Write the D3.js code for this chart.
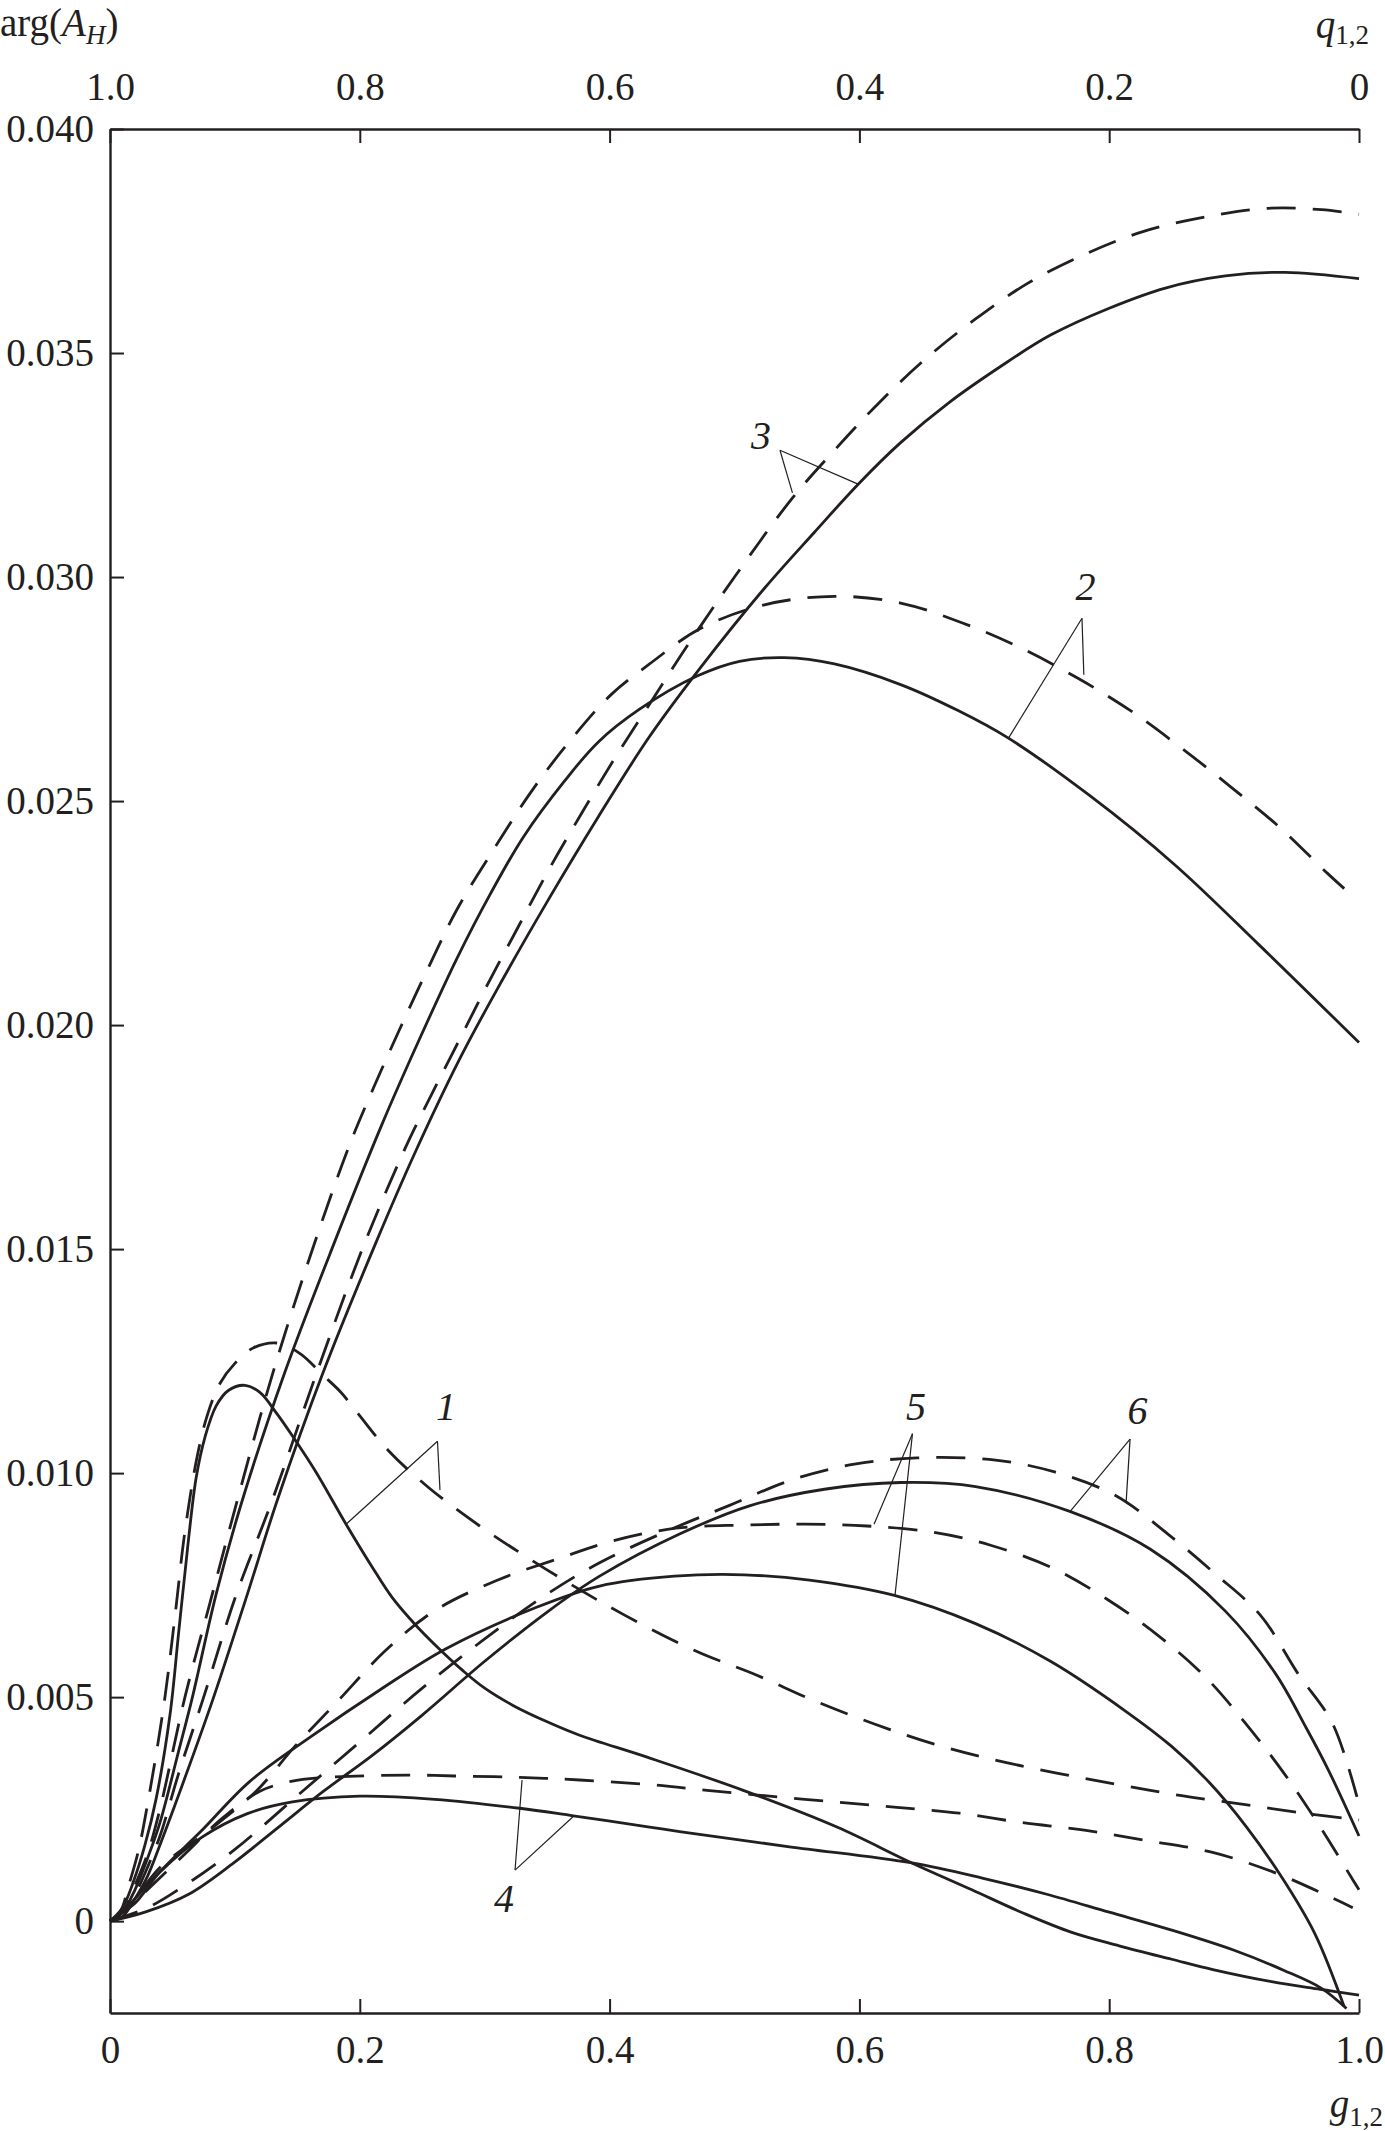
<!DOCTYPE html>
<html>
<head>
<meta charset="utf-8">
<script src="https://cdn.jsdelivr.net/npm/d3@7"></script>
<style>
html, body { margin: 0; padding: 0; background: #ffffff; }
svg { display: block; }
</style>
</head>
<body>
<div id="chart"></div>
<script>
// ---------------- DATA (g_{1,2}, arg(A_H)) ----------------
const gTicks = [0, 0.2, 0.4, 0.6, 0.8, 1.0];
const gTickLabels = ["0", "0.2", "0.4", "0.6", "0.8", "1.0"];
const qTicks = [1.0, 0.8, 0.6, 0.4, 0.2, 0];
const qTickLabels = ["1.0", "0.8", "0.6", "0.4", "0.2", "0"];
const argTicks = [0, 0.005, 0.010, 0.015, 0.020, 0.025, 0.030, 0.035, 0.040];
const argTickLabels = ["0", "0.005", "0.010", "0.015", "0.020", "0.025", "0.030", "0.035", "0.040"];

const curve1Solid = [[0,0],[0.01,0.0003],[0.019,0.0009],[0.028,0.0017],[0.037,0.00274],[0.048,0.0046],[0.055,0.00645],[0.062,0.0083],[0.069,0.0099],[0.076,0.0108],[0.085,0.0115],[0.095,0.01185],[0.108,0.01196],[0.12,0.0118],[0.133,0.01135],[0.148,0.01075],[0.165,0.01002],[0.189,0.00886],[0.21,0.0079],[0.226,0.00722],[0.245,0.0066],[0.262,0.00612],[0.283,0.00558],[0.3,0.0052],[0.323,0.00481],[0.35,0.00445],[0.376,0.00415],[0.43,0.00366],[0.507,0.00292],[0.582,0.0021],[0.642,0.0013],[0.69,0.0007],[0.732,0.00017],[0.77,-0.00025],[0.808,-0.00055],[0.85,-0.00085],[0.883,-0.00108],[0.93,-0.00135],[0.969,-0.00152],[1.0,-0.00165]];
const curve1Dashed = [[0,0],[0.008,0.0002],[0.015,0.0008],[0.023,0.0016],[0.03,0.0026],[0.043,0.0048],[0.052,0.0068],[0.06,0.0087],[0.07,0.0104],[0.078,0.0113],[0.088,0.012],[0.1,0.01245],[0.115,0.0128],[0.135,0.0129],[0.153,0.01265],[0.17,0.0122],[0.185,0.0118],[0.198,0.01135],[0.223,0.0105],[0.255,0.00968],[0.296,0.00882],[0.334,0.00812],[0.37,0.0075],[0.412,0.00683],[0.469,0.00603],[0.517,0.0055],[0.563,0.00493],[0.612,0.0044],[0.66,0.00395],[0.708,0.0036],[0.759,0.0033],[0.809,0.00304],[0.858,0.0028],[0.909,0.0026],[0.958,0.0024],[1.0,0.00226]];

const curve2Solid = [[0,0],[0.01,0.0002],[0.02,0.0007],[0.03,0.0014],[0.04,0.0022],[0.055,0.0038],[0.066,0.005],[0.085,0.0073],[0.106,0.0094],[0.14,0.01225],[0.179,0.0151],[0.218,0.0178],[0.248,0.0197],[0.278,0.0215],[0.304,0.0229],[0.331,0.0242],[0.364,0.02545],[0.391,0.02632],[0.424,0.02705],[0.47,0.02779],[0.504,0.02812],[0.54,0.0282],[0.58,0.02806],[0.633,0.0276],[0.679,0.02702],[0.719,0.02641],[0.784,0.02513],[0.852,0.02359],[0.92,0.02179],[1.0,0.01961]];
const curve2Dashed = [[0,0],[0.01,0.0002],[0.02,0.0008],[0.03,0.0015],[0.04,0.0025],[0.06,0.005],[0.08,0.0071],[0.102,0.0094],[0.13,0.0122],[0.163,0.01507],[0.192,0.01734],[0.211,0.0186],[0.231,0.01985],[0.254,0.02123],[0.278,0.02259],[0.309,0.024],[0.337,0.0252],[0.367,0.0263],[0.401,0.02737],[0.432,0.02806],[0.472,0.02884],[0.524,0.02938],[0.58,0.02957],[0.633,0.02942],[0.682,0.02898],[0.729,0.02842],[0.775,0.02774],[0.818,0.027],[0.859,0.02616],[0.898,0.0253],[0.937,0.0244],[0.975,0.02338],[0.99,0.023]];

const curve3Solid = [[0,0],[0.01,0.0001],[0.02,0.0005],[0.03,0.001],[0.04,0.0017],[0.06,0.0032],[0.083,0.005],[0.11,0.0073],[0.134,0.0094],[0.17,0.0122],[0.213,0.01515],[0.245,0.0172],[0.281,0.0193],[0.314,0.021],[0.351,0.0228],[0.391,0.02465],[0.431,0.0264],[0.472,0.02795],[0.524,0.02975],[0.564,0.031],[0.6,0.0321],[0.633,0.033],[0.672,0.0339],[0.713,0.0347],[0.753,0.0354],[0.8,0.036],[0.845,0.03645],[0.893,0.03672],[0.941,0.0368],[1.0,0.03666]];
const curve3Dashed = [[0,0],[0.01,0.0002],[0.02,0.0006],[0.03,0.0012],[0.04,0.0019],[0.055,0.0033],[0.075,0.005],[0.1,0.0072],[0.13,0.0094],[0.165,0.0122],[0.202,0.015],[0.236,0.01723],[0.258,0.01848],[0.281,0.01974],[0.304,0.021],[0.327,0.0222],[0.351,0.02345],[0.377,0.0247],[0.404,0.02595],[0.434,0.02725],[0.463,0.0285],[0.5,0.0300],[0.546,0.03175],[0.58,0.03283],[0.615,0.03387],[0.653,0.03487],[0.693,0.03576],[0.735,0.03656],[0.781,0.03721],[0.827,0.03771],[0.877,0.03804],[0.927,0.03823],[0.97,0.0382],[1.0,0.0381]];

const curve4Solid = [[0,0],[0.01,0.0002],[0.02,0.0005],[0.04,0.0011],[0.074,0.00188],[0.11,0.0024],[0.146,0.00266],[0.2,0.00279],[0.26,0.00272],[0.328,0.00252],[0.371,0.00235],[0.432,0.0021],[0.456,0.002],[0.544,0.00166],[0.642,0.0013],[0.7,0.00095],[0.75,0.0006],[0.8,0.0002],[0.85,-0.0002],[0.9,-0.00065],[0.94,-0.0011],[0.97,-0.0015],[0.99,-0.00195]];
const curve4Dashed = [[0,0],[0.015,0.0003],[0.03,0.0007],[0.06,0.0015],[0.09,0.0023],[0.12,0.0029],[0.145,0.00312],[0.167,0.0032],[0.239,0.00326],[0.276,0.00324],[0.328,0.00321],[0.376,0.00315],[0.436,0.00304],[0.478,0.00292],[0.528,0.00279],[0.58,0.00266],[0.63,0.00254],[0.68,0.00241],[0.73,0.0022],[0.78,0.00203],[0.83,0.0018],[0.882,0.00154],[0.931,0.0011],[0.977,0.00054],[0.995,0.0003]];

const curve5Solid = [[0,0],[0.01,0.0002],[0.02,0.0004],[0.04,0.0011],[0.073,0.00201],[0.112,0.00312],[0.162,0.00414],[0.216,0.00516],[0.269,0.00608],[0.341,0.007],[0.392,0.00748],[0.452,0.0077],[0.508,0.00773],[0.56,0.00761],[0.628,0.00727],[0.693,0.00664],[0.753,0.0058],[0.813,0.00469],[0.85,0.0039],[0.88,0.0031],[0.91,0.0021],[0.94,0.0009],[0.965,-0.0003],[0.988,-0.0019]];
const curve5Dashed = [[0,0],[0.01,0.0002],[0.02,0.0005],[0.04,0.0012],[0.078,0.002],[0.117,0.0029],[0.148,0.0039],[0.182,0.0049],[0.221,0.00605],[0.26,0.00693],[0.31,0.00761],[0.36,0.0081],[0.403,0.00849],[0.453,0.00877],[0.506,0.00884],[0.556,0.00886],[0.606,0.00882],[0.659,0.00868],[0.705,0.00839],[0.754,0.00789],[0.798,0.00719],[0.839,0.00638],[0.877,0.00545],[0.909,0.00442],[0.941,0.00326],[0.969,0.0021],[0.996,0.00088],[1.0,0.0007]];

const curve6Solid = [[0,0],[0.028,0.0002],[0.063,0.0006],[0.099,0.0013],[0.135,0.0021],[0.171,0.0029],[0.21,0.0037],[0.25,0.0046],[0.3,0.0058],[0.35,0.0069],[0.392,0.0077],[0.456,0.00864],[0.512,0.00927],[0.572,0.00964],[0.633,0.00979],[0.693,0.0097],[0.769,0.00914],[0.833,0.0083],[0.893,0.00692],[0.933,0.00553],[0.958,0.0043],[0.975,0.0034],[1.0,0.0019]];
const curve6Dashed = [[0,0],[0.03,0.0003],[0.06,0.0008],[0.1,0.0016],[0.15,0.0028],[0.2,0.004],[0.25,0.0052],[0.3,0.0063],[0.35,0.0073],[0.392,0.008],[0.448,0.00873],[0.496,0.00928],[0.546,0.00985],[0.596,0.0102],[0.646,0.01034],[0.709,0.01029],[0.757,0.01002],[0.805,0.0095],[0.847,0.00864],[0.885,0.00775],[0.921,0.00683],[0.951,0.00553],[0.979,0.0044],[1.0,0.0026]];

// curve number labels: text anchor, leader vertex, leader end on dashed, leader end on solid (data units)
const curveLabels = ["1", "2", "3", "4", "5", "6"];
const labelText   = [[0.269,0.0115],[0.781,0.02979],[0.5212,0.03317],[0.3155,0.00051],[0.6453,0.0115],[0.8227,0.01141]];
const labelVertex = [[0.2622,0.01071],[0.7782,0.02908],[0.5364,0.03283],[0.3243,0.00114],[0.6425,0.01088],[0.8167,0.01076]];
const labelDashEnd  = [[0.2642,0.00962],[0.7797,0.02782],[0.5464,0.03188],[0.3299,0.00315],[0.6117,0.00886],[0.8135,0.00933]];
const labelSolidEnd = [[0.189,0.00886],[0.7195,0.02641],[0.5985,0.03208],[0.3707,0.00233],[0.6285,0.00727],[0.7686,0.00914]];

// ---------------- DRAWING ----------------
const W = 1385, H = 2131;
const INK = "#231f20";
const FONT = '"Liberation Serif", "Times New Roman", Times, serif';

const series = [
  { pts: curve1Solid, dashed: false }, { pts: curve1Dashed, dashed: true },
  { pts: curve2Solid, dashed: false }, { pts: curve2Dashed, dashed: true },
  { pts: curve3Solid, dashed: false }, { pts: curve3Dashed, dashed: true },
  { pts: curve4Solid, dashed: false }, { pts: curve4Dashed, dashed: true },
  { pts: curve5Solid, dashed: false }, { pts: curve5Dashed, dashed: true },
  { pts: curve6Solid, dashed: false }, { pts: curve6Dashed, dashed: true }
];

const svg = d3.select("#chart").append("svg")
  .attr("width", W).attr("height", H)
  .attr("viewBox", `0 0 ${W} ${H}`)
  .style("background", "#fff");

const x  = d3.scaleLinear().domain([0, 1]).range([110, 1359]);
const xq = d3.scaleLinear().domain([1, 0]).range([110, 1359]);
const y  = d3.scaleLinear().domain([-0.00205, 0.040]).range([2013, 129]);

function styleAxis(g) {
  g.attr("font-family", FONT).attr("font-size", 39);
  g.select(".domain").attr("stroke", INK).attr("stroke-width", 2.4);
  g.selectAll(".tick line").attr("stroke", INK).attr("stroke-width", 2);
  g.selectAll(".tick text").attr("fill", INK);
}

// bottom axis (g)
svg.append("g")
  .attr("transform", `translate(0,${y(-0.00205)})`)
  .call(d3.axisBottom(x).tickValues(gTicks)
    .tickFormat(d => gTickLabels[gTicks.indexOf(d)])
    .tickSizeInner(-14).tickSizeOuter(0).tickPadding(22))
  .call(styleAxis);

// top axis (q)
svg.append("g")
  .attr("transform", `translate(0,${y(0.040)})`)
  .call(d3.axisTop(xq).tickValues(qTicks)
    .tickFormat(d => qTickLabels[qTicks.indexOf(d)])
    .tickSizeInner(-14).tickSizeOuter(0).tickPadding(29))
  .call(styleAxis);

// left axis (arg A_H)
svg.append("g")
  .attr("transform", `translate(${x(0)},0)`)
  .call(d3.axisLeft(y).tickValues(argTicks)
    .tickFormat(d => argTickLabels[argTicks.indexOf(d)])
    .tickSizeInner(-14).tickSizeOuter(0).tickPadding(16))
  .call(styleAxis);

// curves
const line = d3.line()
  .x(d => x(d[0])).y(d => y(d[1]))
  .curve(d3.curveCatmullRom.alpha(0.5));

svg.append("g").selectAll("path.curve")
  .data(series).join("path")
  .attr("class", "curve")
  .attr("d", d => line(d.pts))
  .attr("fill", "none")
  .attr("stroke", INK)
  .attr("stroke-width", 2.8)
  .attr("stroke-linejoin", "round")
  .attr("stroke-dasharray", d => d.dashed ? "29,17" : null);

// leader lines
const leaders = svg.append("g").attr("stroke", INK).attr("stroke-width", 1.2).attr("fill", "none");
curveLabels.forEach((lab, i) => {
  const v = labelVertex[i];
  [labelDashEnd[i], labelSolidEnd[i]].forEach(e => {
    leaders.append("line")
      .attr("x1", x(v[0])).attr("y1", y(v[1]))
      .attr("x2", x(e[0])).attr("y2", y(e[1]));
  });
});

// curve labels
svg.append("g").selectAll("text")
  .data(curveLabels).join("text")
  .attr("x", (d, i) => x(labelText[i][0]))
  .attr("y", (d, i) => y(labelText[i][1]))
  .attr("dy", "0.35em")
  .attr("text-anchor", "middle")
  .attr("font-family", FONT)
  .attr("font-style", "italic")
  .attr("font-size", 40)
  .attr("fill", INK)
  .text(d => d);

// axis titles
const t1 = svg.append("text").attr("x", 0).attr("y", 36)
  .attr("font-family", FONT).attr("font-size", 39).attr("fill", INK);
t1.append("tspan").text("arg(");
t1.append("tspan").attr("font-style", "italic").text("A");
t1.append("tspan").attr("font-style", "italic").attr("font-size", 27).attr("dy", 8).text("H");
t1.append("tspan").attr("dy", -8).text(")");

const t2 = svg.append("text").attr("x", 1369).attr("y", 38).attr("text-anchor", "end")
  .attr("font-family", FONT).attr("font-size", 39).attr("fill", INK);
t2.append("tspan").attr("font-style", "italic").text("q");
t2.append("tspan").attr("font-size", 27).attr("dy", 6).text("1,2");

const t3 = svg.append("text").attr("x", 1383).attr("y", 2117).attr("text-anchor", "end")
  .attr("font-family", FONT).attr("font-size", 39).attr("fill", INK);
t3.append("tspan").attr("font-style", "italic").text("g");
t3.append("tspan").attr("font-size", 27).attr("dy", 9).text("1,2");
</script>
</body>
</html>
